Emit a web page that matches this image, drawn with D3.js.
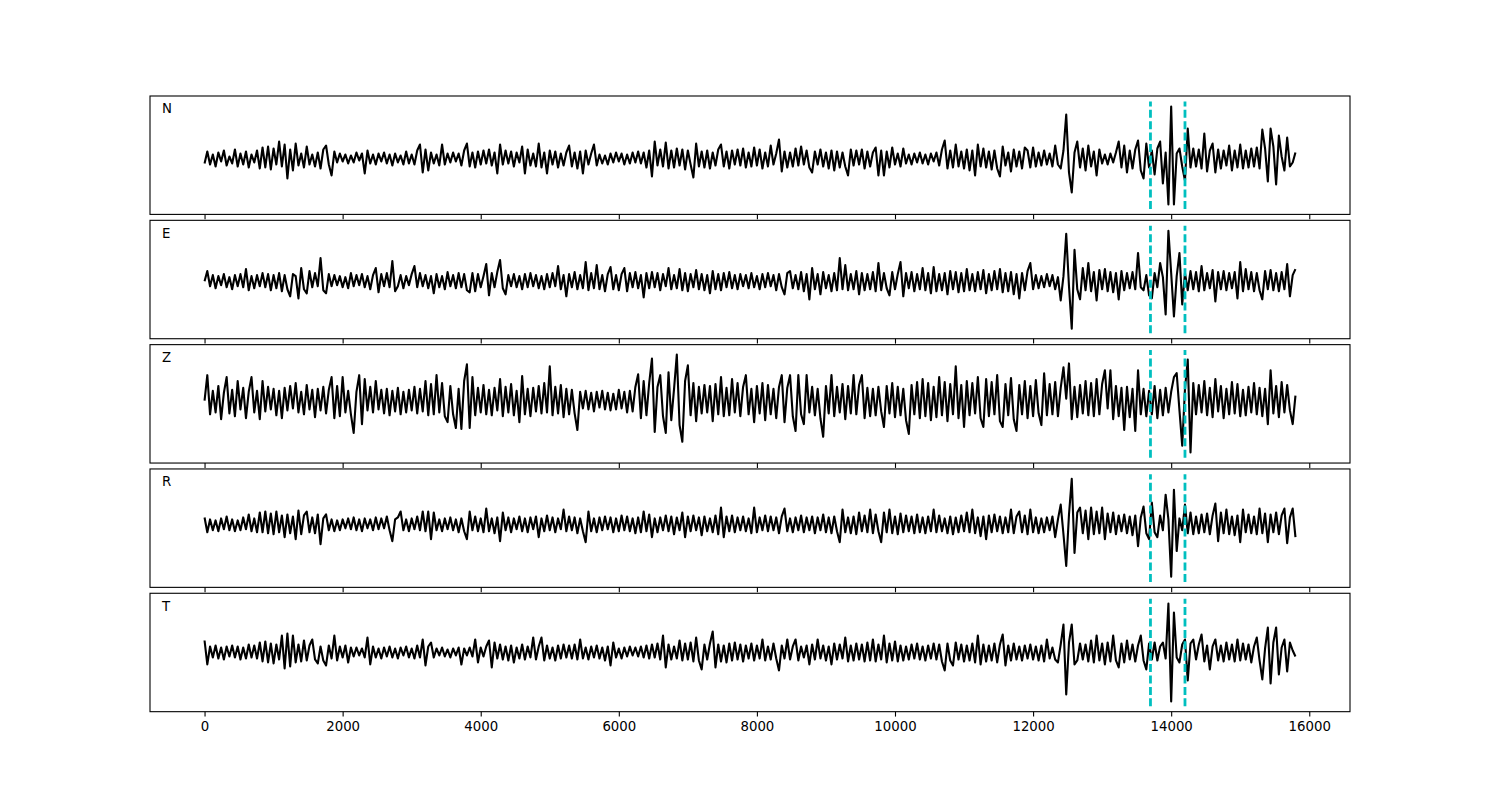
<!DOCTYPE html>
<html>
<head>
<meta charset="utf-8">
<script src="https://cdn.jsdelivr.net/npm/d3@7"></script>
<style>
  body { margin: 0; background: #fff; }
  text { font-family: "DejaVu Sans", sans-serif; }
</style>
</head>
<body>
<div id="chart"></div>
<script>
// one value every 40 samples, amplitudes (arbitrary units)
const channels = ["N", "E", "Z", "R", "T"]
const sampleStep = 40
const picks = [13700, 14200]
const xTicks = [0, 2000, 4000, 6000, 8000, 10000, 12000, 14000, 16000]

const traceN = [
  -5, 7, -6, 4, -8, 6, -3, 8, -7, 2, -5, 9, -8, 5, -6, 7, -9, 4, -4, 8,
  -10, 11, -9, 12, -11, 10, -6, 17, -8, 14, -20, 9, -12, 15, -7, 5, -9, 12, -6, 4,
  -8, 6, -10, 9, 13, -6, -17, 7, -4, 5, -3, 4, -5, 3, -4, 6, -2, 5, -15, 8,
  -5, 4, -6, 5, -3, 6, -5, 4, -7, 5, -4, 3, -6, 7, -5, 4, -6, 8, 14, -14,
  9, -12, 6, -5, 4, -7, 14, -6, 5, -4, 6, -3, 5, -7, 8, 15, -8, 6, -9, 7,
  -6, 8, -5, 9, -7, 6, -15, 14, -6, 8, -5, 7, -8, 6, -4, 12, -15, 9, -7, 5,
  -8, 15, -9, 6, -15, 8, -6, 7, -9, 5, -7, 6, 13, -8, 6, -10, 7, -15, 8, -6,
  5, 14, -7, 4, -5, 3, -6, 5, -4, 6, -3, 5, -6, 4, -5, 6, -4, 7, -5, 6,
  -9, 8, -18, 17, -7, 9, -8, 16, -10, 8, -9, 10, -7, 9, -11, 8, -6, -19, 15, -8,
  7, -9, 8, -10, 6, -7, 9, 14, -8, 7, -10, 8, -6, 9, -7, 10, -9, 6, -8, 11,
  -7, 9, -10, 6, -8, 13, -6, 5, 19, -13, 7, -9, 6, -8, 10, -7, 12, -6, 8, -9,
  -14, 7, -6, 9, -8, 6, -10, 8, -12, 7, -9, 6, -8, -17, 9, -7, 8, -6, 9, -10,
  7, -8, 6, 11, -17, 8, -17, 7, -9, 11, -6, 5, -8, 10, -5, 4, -6, 5, -4, 6,
  -5, 4, -6, 5, -3, 6, -7, 9, 18, -10, 8, -9, 14, -8, 7, -10, 9, -12, 8, -17,
  14, -8, 10, -9, 7, -11, 8, -10, -18, 12, -7, 6, -13, 9, -8, 7, -10, 11, 8, -9,
  11, -8, 6, -7, 8, -6, 5, -8, 13, -6, -10, 8, 44, -14, -34, 6, 17, -9, 10, -12,
  13, -8, 7, -17, 9, -5, 4, -6, 5, -4, 6, 17, -9, 13, -14, 8, -10, 9, 18, -12,
  -20, 15, -9, 8, -16, 10, 17, -25, 6, -46, 52, -46, 5, 10, -8, -22, 30, -9, 10, -8,
  9, -10, 25, -13, 8, 15, -14, 9, -10, 8, -7, 13, -12, 8, -9, 14, -10, 8, -9, 10,
  -8, 11, -10, 29, 10, -23, 30, 12, -26, 23, 2, -12, 21, -8, -4, 6
]

const traceE = [
  0, 10, -5, 6, -7, 5, -4, 7, -6, 4, -8, 6, -5, 7, -6, 12, -9, 5, -7, 6,
  -5, 8, -6, 7, -9, 6, -7, 8, -10, 6, -8, -15, 7, 5, -17, 13, -8, -12, 10, -6,
  8, -5, 23, -9, -12, 7, -5, 6, -4, 5, -6, 4, -7, 8, -5, 6, -4, 7, -6, 5,
  -8, 6, 13, -11, 7, -5, 8, -6, 20, -10, -5, 6, -7, 5, -4, 7, 15, -6, 8, -5,
  6, -7, 5, -12, 7, -6, 5, -8, 9, -5, 6, -7, 8, -6, 7, -9, -11, 8, -10, 7,
  -6, 5, 17, -14, 8, -6, 9, 21, -7, -13, 6, -5, 7, -6, 5, -8, 7, -6, 8, -5,
  6, -7, 5, -8, 7, -6, 8, -5, 15, -8, 6, -15, 7, -6, 9, -8, 6, -7, 19, -9,
  8, -7, 16, -8, 6, -10, 7, 14, -8, 6, -9, 7, 13, -10, 8, -6, 9, -7, 6, -16,
  8, -7, 9, -6, 8, -9, 7, -5, 13, -8, 6, -7, 12, -9, 8, -10, 7, -6, 11, -8,
  7, -9, 6, -12, 10, -8, 7, -9, 8, -6, 9, -7, 6, -8, 7, -5, 6, -7, 8, -6,
  5, -8, 7, -6, 8, -5, 6, -9, 7, -6, -13, 8, 10, -7, 6, -8, 9, -10, 7, -18,
  13, -8, 7, -13, 9, -7, 6, -10, 8, -9, 23, -8, 16, -9, 7, -8, 10, -13, 8, -9,
  7, -8, 9, -10, 18, -9, 8, -7, -14, 9, -8, 7, 19, -15, 8, -7, 9, -10, 7, -8,
  13, -9, 8, -12, 14, -10, 7, -9, 8, -13, 10, -8, 9, -11, 8, -10, 12, -9, 7, -10,
  9, -8, 11, -12, 7, -9, 10, -8, 12, -11, 8, -10, 9, -13, 7, -17, 8, -9, 10, 18,
  -8, 6, -7, 5, -6, 7, -5, 6, -8, 4, -19, 5, 47, -5, -47, 31, -8, -18, 13, -9,
  18, -10, 9, -19, 11, -8, 12, -10, 9, -11, 8, -18, 10, -9, 8, -7, 9, -8, 28, -6,
  -9, 6, -14, -17, 8, -6, 18, 4, -33, 50, 8, -35, 5, 28, -23, 8, -9, 10, -8, 9,
  -10, 15, -9, 8, -7, 11, -20, 9, -8, 10, -9, 8, -7, 9, -17, 19, -10, 12, -8, 9,
  -10, 8, -9, -18, 10, -8, 11, -9, 8, -10, 9, -8, 17, -15, 6, 12
]

const traceZ = [
  0, 26, -14, 10, -12, 15, -19, 8, 24, -13, 11, -16, 20, -9, 13, -18, 9, 24, -12, 10,
  -19, 20, -11, 14, -9, 12, -15, 10, -18, 13, -10, 15, -8, 18, -12, 9, -14, 16, -9, 11,
  -17, 12, -10, 14, -13, 11, 24, -18, 15, -16, 24, -12, 10, -14, -33, 9, 26, -24, 22, -10,
  14, -12, 20, -9, 11, -13, 12, -15, 10, -11, 13, -14, 9, -12, 11, -10, 14, -13, 12, -11,
  20, -15, 17, -14, 26, -12, 18, -16, -22, 15, -14, -28, 12, -29, 20, 37, -28, 24, -15, 13,
  -12, 16, -14, 11, -15, 13, -10, 22, -16, 14, -12, 17, -15, 10, -22, 25, -14, 12, -16, 13,
  -11, 15, -13, 18, -12, 35, -15, 14, -13, 16, -17, 12, -14, 11, -13, -30, 9, -8, 10, -9,
  8, -11, 9, -7, 10, -9, 8, -10, 7, -9, 11, -8, 9, -12, 10, -11, 14, 27, -18, 20,
  -15, 18, 43, -32, 14, 26, -16, -33, 29, -20, 12, 47, -25, -42, 20, 36, -15, 18, -21, 14,
  -13, 16, -12, 15, -21, 17, -14, 24, -16, 13, -15, 22, -12, 18, -16, 14, 26, -14, 12, -22,
  15, -13, 18, -20, 16, -14, 12, -18, 14, 26, -22, 13, 26, -16, -31, 26, -14, -24, 26, -12,
  14, -15, 12, -18, -37, 15, -13, 26, -16, 14, -12, 17, -19, 15, -13, 26, -14, 16, 26, -18,
  13, -16, 12, -15, 14, -11, -27, 15, -13, 18, -17, 14, -15, 12, -20, -34, 16, -14, 19, -18,
  22, -16, 18, -20, 14, -17, 24, -15, 19, -21, 17, -14, 35, -18, 16, -27, 20, -15, 18, -13,
  24, -18, -27, 22, -16, 19, -14, 26, -21, -27, 17, -15, 23, -19, -31, 16, -14, 20, -18, 15,
  -16, 21, -13, -25, 28, -15, 17, -14, 19, -16, 13, 34, 2, 38, -19, 14, -17, 16, -13, 20,
  -15, 18, -16, 22, -14, 17, 31, -8, 31, -19, 15, -16, 13, -30, 14, -17, 12, -31, 31, -14,
  12, -16, 10, -14, 15, -18, 11, -15, 13, -12, 9, 24, 28, -10, -46, 12, 42, -53, 18, -14,
  16, -12, 20, -15, 13, -17, 22, -11, 15, -18, 12, -14, 19, -13, 17, -16, 11, -15, 14, -12,
  18, -14, 13, -16, 12, -24, 31, -13, 15, -17, 19, -12, 16, -10, -24, 5
]

const traceR = [
  7, -8, 5, -6, 4, -7, 6, -5, 8, -6, 5, -7, 4, -6, 7, -5, 10, -7, 6, -8,
  12, -8, 13, -9, 11, -10, 13, -8, 9, -13, 10, -9, 8, -15, 14, -10, 9, 13, -8, 7,
  -9, 10, -20, 6, 10, -6, 5, -7, 4, -6, 5, -4, 6, -5, 7, -6, 5, -7, 6, -4,
  5, -6, 7, -5, 6, -4, 8, -6, -17, 5, 7, 13, -6, 5, -7, 6, -5, 8, -6, 13,
  -7, 13, -15, 12, -6, 5, -7, 6, -5, 7, -6, 5, -8, 6, -7, -15, 13, -6, 8, -7,
  6, -8, 16, -7, 6, -9, 7, -17, 12, -6, 7, -8, 6, -5, 8, -7, 6, -8, 7, -5,
  8, -13, 6, -7, 9, -6, 7, -8, 6, -5, 15, -7, 8, -6, 7, -9, 6, -7, -18, 13,
  -7, 6, -8, 7, -6, 8, -5, 7, -8, 6, -7, 9, -6, 8, -7, 6, -9, 7, -8, 13,
  -7, 10, -13, 6, -8, 7, -6, 9, -7, 8, -10, 7, -6, 12, -13, 8, -7, 9, -6, 7,
  -11, 8, -7, 6, -8, 9, -10, 17, -13, 8, -7, 9, -8, 7, -6, 8, -7, 6, -9, 17,
  -8, 7, -6, 9, -7, 8, -6, 7, -9, 8, 16, -7, 6, -8, 7, -6, 9, -8, 7, -6,
  8, -9, 7, -6, 10, -8, 7, -9, 8, -7, -18, 15, -8, 7, -9, 8, -10, 12, -7, 9,
  -8, 15, -9, 10, -7, -18, 12, -8, 15, -9, 8, -10, 11, -8, 9, -7, 8, -9, 10, -8,
  7, -9, 8, -7, 15, -8, 9, -7, 6, -9, 8, -10, 7, -8, 9, -7, 12, -8, 15, -9,
  7, -12, 8, -15, 9, -8, 10, -7, 8, -9, 7, -8, 15, -9, 8, 13, -8, 9, -10, 15,
  -8, 7, -9, 6, -8, 7, -6, 8, -13, 5, 20, -10, -42, 10, 46, -29, 12, 17, -9, 14,
  -15, 17, -10, 13, -9, 17, -15, 11, -8, 12, -10, 9, -7, 10, -9, 8, -11, 9, -22, 7,
  18, -9, -15, 22, -8, -13, 9, -6, 30, 5, -53, 35, -27, 6, -6, 20, -9, 12, -10, 8,
  -9, 10, -8, 11, -10, 9, 21, -17, 12, -9, 15, -10, 8, -11, 9, -18, 15, -8, 10, -9,
  8, -10, 16, -9, 11, -18, 10, -8, 12, -10, 9, 16, -19, 7, 16, -13
]

const traceT = [
  12, -12, 6, -5, 7, -6, 5, -7, 6, -4, 7, -5, 6, -7, 5, -6, 8, -5, 7, -6,
  10, -9, 11, -10, 9, -11, 8, -7, 17, -16, 19, -14, 17, -10, 8, -9, 12, -8, 7, 13,
  -7, -11, 6, -8, -13, 7, -6, 17, -8, 6, -5, 7, -10, 5, -4, 5, -3, 4, -5, 15,
  -12, 6, -5, 4, -6, 5, -4, 6, -5, 4, -6, 5, -3, 6, -5, 4, -6, 7, -5, 13,
  -13, 6, 10, -5, 4, -3, 5, -4, 3, -5, 4, -3, 5, -12, 4, -3, 5, -4, 13, -10,
  5, -4, 6, 12, -15, 10, -6, 8, -7, 6, -8, 7, -10, 5, -6, 8, -7, 6, -5, 15,
  -7, 6, 15, -8, 7, -6, 5, -8, 7, -6, 8, -5, 7, -6, 8, -7, 13, -6, 5, -7,
  6, -5, 7, -6, 5, -8, 6, -13, 10, -5, 4, -6, 5, -4, 6, -3, 5, -4, 6, -5,
  7, -6, 8, -5, 9, -7, 17, -15, 8, -7, 6, -6, 12, -8, 9, -7, 10, -9, 15, -8,
  -17, 8, -7, 9, 21, -15, 8, -9, 7, -10, 9, -8, 10, -7, 8, -9, 7, -6, 9, -8,
  7, -6, 13, -8, 6, -7, 9, -6, -18, 7, -6, 13, -7, 6, 13, -8, 6, -5, 7, -12,
  8, -7, 13, -6, 7, -8, 6, -12, 9, -7, 8, -6, 15, -9, 7, -8, 9, -7, 8, -9,
  10, -8, 13, -9, 8, -7, 17, -10, 9, -8, 11, -9, 7, -8, 6, -7, 8, -6, 9, -7,
  6, -8, 7, -6, 9, -7, 8, -9, -18, 9, -8, -13, 10, -7, 8, -9, 7, -8, 9, -10,
  17, -12, 8, -9, 7, -8, 9, -10, 8, 18, -13, 7, -8, 9, -7, 6, -8, 7, -6, 8,
  -7, 6, -8, 7, -9, 13, -6, 5, -7, -10, 8, 28, -42, 10, 28, -12, -8, 9, -7, 8,
  -9, 12, -10, 17, -8, 9, -12, 10, -9, 17, -8, -15, 9, -10, 12, -7, 8, -9, 7, 17,
  -8, -17, 9, -7, 10, -8, 6, 10, -6, 49, -49, 40, -5, -10, 8, 13, -28, 9, 13, -7,
  8, 18, -9, 7, -17, 6, 13, -8, 7, -9, 10, -7, 8, -9, 13, -8, 9, -7, 8, -10,
  6, 15, -8, -27, 4, 25, -31, 10, 25, -22, 5, 13, -19, 10, 2, -4
]

const traces = [traceN, traceE, traceZ, traceR, traceT]

const width = 1500, height = 800
const marginLeft = 150, marginRight = 1350, marginTop = 96
const panelH = 118.4, gap = 5.92

const svg = d3.select("#chart")
              .append("svg")
              .attr("width", width)
              .attr("height", height)

const lastSample = (d3.max(traces, t => t.length) - 1) * sampleStep
const x = d3.scaleLinear()
            .domain([-0.05 * lastSample, 1.05 * lastSample]) // matplotlib style 5% margins
            .range([marginLeft, marginRight])

traces.forEach((trace, k) => {
  const y0 = marginTop + k * (panelH + gap)
  // pick lines run a bit past the data, the panel pads 5% around them
  const lo = d3.min(trace) * 1.1
  const hi = d3.max(trace) * 1.1
  const pad = (hi - lo) * 0.05
  const y = d3.scaleLinear()
              .domain([lo - pad, hi + pad])
              .range([y0 + panelH, y0])

  const g = svg.append("g")

  const line = d3.line()
                 .x((d, i) => x(i * sampleStep))
                 .y(d => y(d))

  g.append("path")
   .datum(trace)
   .attr("d", line)
   .attr("fill", "none")
   .attr("stroke", "black")
   .attr("stroke-width", 2.1)
   .attr("stroke-linejoin", "round")

  g.selectAll(".pick")
   .data(picks)
   .enter()
   .append("line")
   .attr("class", "pick")
   .attr("x1", d => x(d))
   .attr("x2", d => x(d))
   .attr("y1", y(lo))
   .attr("y2", y(hi))
   .attr("stroke", "#00bfbf")
   .attr("stroke-width", 2.8)
   .attr("stroke-dasharray", "8,3.4")

  const axis = d3.axisBottom(x)
                 .tickValues(xTicks)
                 .tickSize(4.9)
                 .tickPadding(4.9)
                 .tickFormat(k === traces.length - 1 ? d3.format("d") : "")

  const ax = g.append("g")
              .attr("transform", `translate(0,${y0 + panelH})`)
              .call(axis)
  ax.select(".domain").remove()
  ax.selectAll(".tick line").attr("stroke", "black").attr("stroke-width", 1.1)
  ax.selectAll(".tick text")
    .attr("fill", "black")
    .style("font-size", "13.3px")
    .style("font-family", "'DejaVu Sans', sans-serif")

  g.append("rect")
   .attr("x", marginLeft)
   .attr("y", y0)
   .attr("width", marginRight - marginLeft)
   .attr("height", panelH)
   .attr("fill", "none")
   .attr("stroke", "black")
   .attr("stroke-width", 1.1)

  g.append("text")
   .attr("x", marginLeft + 12)
   .attr("y", y0 + 17.3)
   .attr("fill", "black")
   .style("font-size", "13.3px")
   .text(channels[k])
})
</script>
</body>
</html>
